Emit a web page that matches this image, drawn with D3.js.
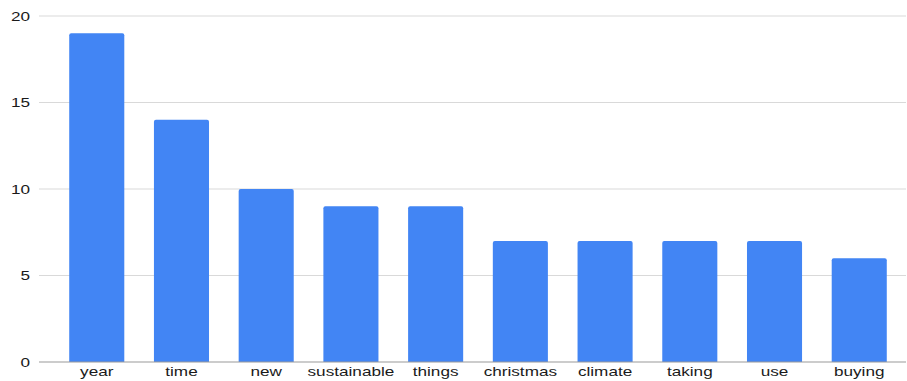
<!DOCTYPE html>
<html>
<head>
<meta charset="utf-8">
<script src="https://cdn.jsdelivr.net/npm/d3@7"></script>
<style>
  html, body { margin: 0; padding: 0; background: #fff; }
  svg { display: block; }
  text { font-family: "Liberation Sans", Arial, Helvetica, sans-serif; fill: #1a1a1a; }
</style>
</head>
<body>
<svg id="chart" width="907" height="381"></svg>
<script>
// Word frequencies
const words = ["year", "time", "new", "sustainable", "things", "christmas", "climate", "taking", "use", "buying"];
const counts = [19, 14, 10, 9, 9, 7, 7, 7, 7, 6];
const yTicks = [0, 5, 10, 15, 20];

const svg = d3.select("#chart");
const gridLeft = 39, gridRight = 906;
const yBottom = 362, yTop = 16;
const stretch = 1.32; // wide label face

const x = d3.scaleBand()
  .domain(words)
  .range([54.4, 901.6])
  .paddingInner(0.35)
  .paddingOuter(0.175);

const y = d3.scaleLinear().domain([0, 20]).range([yBottom, yTop]);

// Horizontal gridlines
svg.append("g")
  .selectAll("line")
  .data(yTicks.filter(t => t !== 0))
  .join("line")
  .attr("x1", gridLeft).attr("x2", gridRight)
  .attr("y1", d => y(d)).attr("y2", d => y(d))
  .attr("stroke", "#d9d9d9").attr("stroke-width", 1);

// Y tick labels
svg.append("g")
  .selectAll("text")
  .data(yTicks)
  .join("text")
  .attr("transform", d => `translate(30,${y(d)}) scale(${stretch},1)`)
  .attr("dy", "0.35em")
  .attr("text-anchor", "end")
  .attr("font-size", 13)
  .text(d => d);

// Bars with slightly rounded tops
const r = 2;
svg.append("g")
  .selectAll("path")
  .data(words.map((w, i) => ({ w, v: counts[i] })))
  .join("path")
  .attr("fill", "#4285f4")
  .attr("d", d => {
    const x0 = x(d.w), x1 = x0 + x.bandwidth();
    const yt = y(d.v), yb = y(0);
    return `M${x0},${yb}V${yt + r}Q${x0},${yt} ${x0 + r},${yt}H${x1 - r}Q${x1},${yt} ${x1},${yt + r}V${yb}Z`;
  });

// Baseline
svg.append("line")
  .attr("x1", gridLeft).attr("x2", gridRight)
  .attr("y1", y(0)).attr("y2", y(0))
  .attr("stroke", "#999").attr("stroke-width", 1.2);

// Category labels
svg.append("g")
  .selectAll("text")
  .data(words)
  .join("text")
  .attr("transform", d => `translate(${x(d) + x.bandwidth() / 2},376) scale(${stretch},1)`)
  .attr("text-anchor", "middle")
  .attr("font-size", 13)
  .text(d => d);
</script>
</body>
</html>
